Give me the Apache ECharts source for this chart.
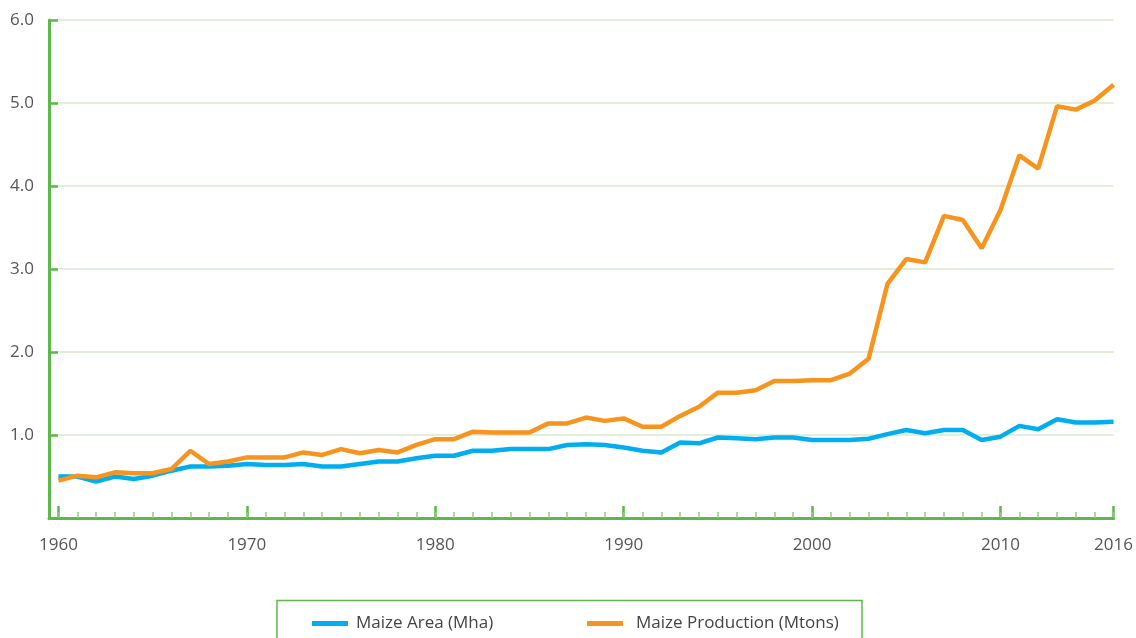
<!DOCTYPE html>
<html>
<head>
<meta charset="utf-8">
<script src="https://cdn.jsdelivr.net/npm/echarts@6/dist/echarts.min.js"></script>
<style>
html,body{margin:0;padding:0;background:#fff;}
#chart{width:1136px;height:638px;}
</style>
</head>
<body>
<div id="chart"></div>
<script>
const years = [];
for (let y = 1960; y <= 2016; y++) years.push(y);
const xTickLabels = [1960, 1970, 1980, 1990, 2000, 2010, 2016];
const seriesNames = ['Maize Area (Mha)', 'Maize Production (Mtons)'];
const maizeArea = [
  0.50,0.50,0.44,0.50,0.47,0.51,0.57,0.62,0.62,0.63,
  0.65,0.64,0.64,0.65,0.62,0.62,0.65,0.68,0.68,0.72,
  0.75,0.75,0.81,0.81,0.83,0.83,0.83,0.88,0.89,0.88,
  0.85,0.81,0.79,0.91,0.90,0.97,0.96,0.95,0.97,0.97,
  0.94,0.94,0.94,0.955,1.01,1.06,1.02,1.06,1.06,0.94,
  0.98,1.11,1.07,1.19,1.15,1.15,1.16
];
const maizeProduction = [
  0.45,0.51,0.49,0.55,0.54,0.54,0.59,0.81,0.65,0.68,
  0.73,0.73,0.73,0.79,0.76,0.83,0.78,0.82,0.79,0.88,
  0.95,0.95,1.04,1.03,1.03,1.03,1.14,1.14,1.21,1.17,
  1.20,1.10,1.10,1.23,1.34,1.51,1.51,1.54,1.65,1.65,
  1.66,1.66,1.74,1.92,2.82,3.12,3.08,3.64,3.59,3.25,
  3.71,4.37,4.21,4.96,4.92,5.03,5.22
];

const green = '#5cb84a';
const font = '"Open Sans", "Noto Sans", sans-serif';
const legendCommon = {
  top: 615, padding: 0,
  itemWidth: 36, itemHeight: 5,
  icon: 'rect'
};
const chart = echarts.init(document.getElementById('chart'), null, {renderer: 'canvas'});
chart.setOption({
  animation: false,
  backgroundColor: '#ffffff',
  grid: {left: 49, right: 22, top: 20, bottom: 120, containLabel: false},
  graphic: [{
    type: 'rect',
    shape: {x: 277, y: 600.5, width: 585, height: 60},
    style: {fill: 'none', stroke: green, lineWidth: 1.5},
    z: 0
  }],
  legend: [
    Object.assign({}, legendCommon, {left: 312, data: [seriesNames[0]],
      textStyle: {fontFamily: font, fontSize: 17, color: '#444', padding: [0, 0, 0, 3]}}),
    Object.assign({}, legendCommon, {left: 587, data: [seriesNames[1]],
      textStyle: {fontFamily: font, fontSize: 17, color: '#444', padding: [0, 0, 0, 8]}})
  ],
  xAxis: [{
    type: 'value', min: 1959.5, max: 2016,
    splitLine: {show: false},
    axisLine: {show: true, lineStyle: {color: green, width: 3}},
    axisTick: {show: true, inside: true, length: 12, customValues: xTickLabels, lineStyle: {color: green, width: 2.5}},
    axisLabel: {customValues: xTickLabels, fontFamily: font, fontSize: 17, color: '#555', margin: 19, formatter: v => String(v)}
  }, {
    type: 'value', min: 1959.5, max: 2016, position: 'bottom',
    splitLine: {show: false},
    axisLine: {show: false},
    axisTick: {show: true, inside: true, length: 6, customValues: years, lineStyle: {color: '#8fd07f', width: 1.5}},
    axisLabel: {show: false}
  }],
  yAxis: {
    type: 'value', min: 0, max: 6, interval: 1,
    axisLine: {show: true, lineStyle: {color: green, width: 3}},
    axisTick: {show: true, inside: true, length: 9, lineStyle: {color: green, width: 2.5}},
    splitLine: {show: true, lineStyle: {color: '#d9e8cb', width: 1.5}},
    axisLabel: {fontFamily: font, fontSize: 17, color: '#555', margin: 15,
      formatter: v => v === 0 ? '' : v.toFixed(1)}
  },
  series: [{
    name: seriesNames[0], type: 'line', symbol: 'none',
    color: '#00aeef',
    lineStyle: {width: 4.5, color: '#00aeef'},
    data: years.map((y, i) => [y, maizeArea[i]])
  }, {
    name: seriesNames[1], type: 'line', symbol: 'none',
    color: '#f7941d',
    lineStyle: {width: 4.5, color: '#f7941d'},
    data: years.map((y, i) => [y, maizeProduction[i]])
  }]
});
</script>
</body>
</html>
